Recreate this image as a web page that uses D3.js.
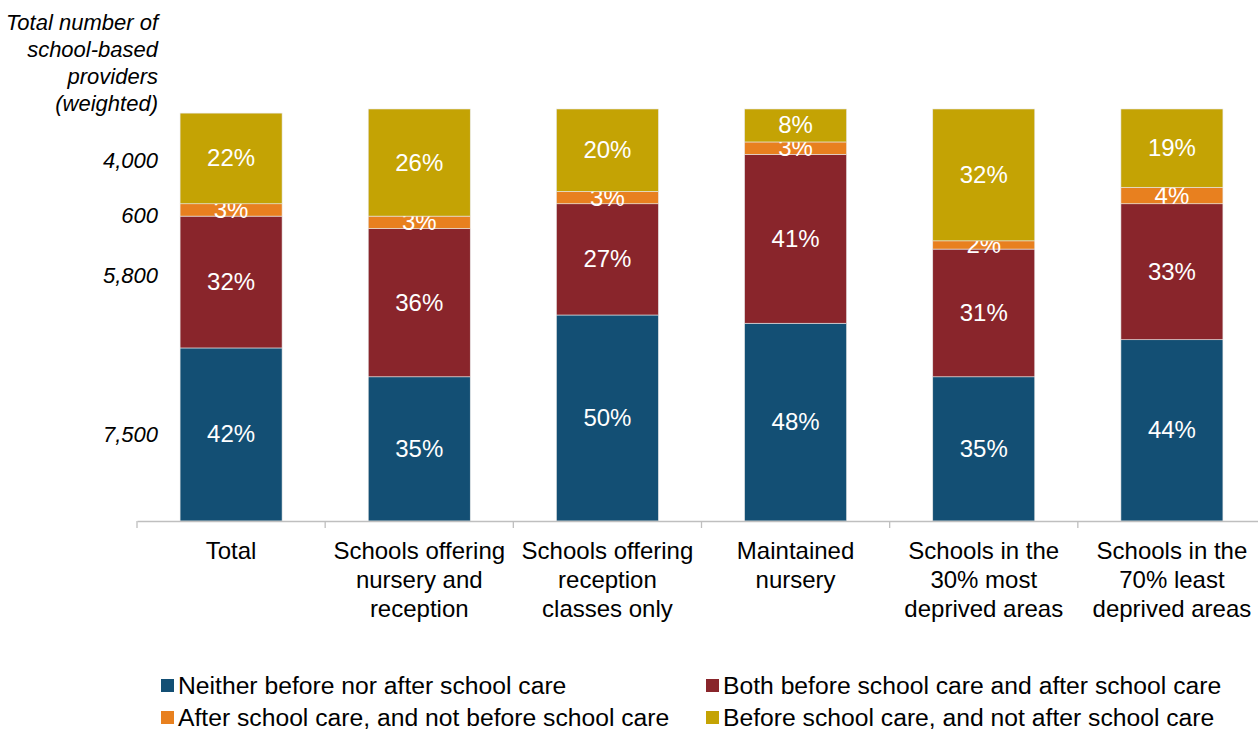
<!DOCTYPE html>
<html>
<head>
<meta charset="utf-8">
<script src="https://cdn.jsdelivr.net/npm/d3@7"></script>
<style>
	body { margin: 0; background: #fff; }
	text { font-family: "Liberation Sans", Arial, sans-serif; }
</style>
</head>
<body>
<svg width="1258" height="731"></svg>
<script>
'use strict';
// data
const categories = [
	["Total"],
	["Schools offering", "nursery and", "reception"],
	["Schools offering", "reception", "classes only"],
	["Maintained", "nursery"],
	["Schools in the", "30% most", "deprived areas"],
	["Schools in the", "70% least", "deprived areas"]]
const seriesNames = [
	"Neither before nor after school care",
	"Both before school care and after school care",
	"After school care, and not before school care",
	"Before school care, and not after school care"]
const neither = [42, 35, 50, 48, 35, 44]
const both = [32, 36, 27, 41, 31, 33]
const afterOnly = [3, 3, 3, 3, 2, 4]
const beforeOnly = [22, 26, 20, 8, 32, 19]
const totalCounts = ["7,500", "5,800", "600", "4,000"] // per series, for the Total bar
const yTitle = ["Total number of", "school-based", "providers", "(weighted)"]

const colors = ["#134f74", "#89252b", "#e8801f", "#c4a304"]

let eSvg = d3.select("svg")
let dTop = 109, dBottom = 521, dLeft = 137, dRight = 1266
let fs = 24, fsIt = 22, fsLeg = 24.7

let xScale = d3.scaleBand()
	.domain(d3.range(categories.length))
	.range([dLeft, dRight])
	.paddingInner(0).paddingOuter(0)
let yScale = d3.scaleLinear().domain([0, 100]).range([dBottom, dTop])

let table = categories.map((c, i) => ({
	i: i, s0: neither[i], s1: both[i], s2: afterOnly[i], s3: beforeOnly[i]}))
let stacked = d3.stack().keys(["s0", "s1", "s2", "s3"])(table)

let barW = 102
let gBars = eSvg.append("g")
stacked.forEach((layer, k) => {
	let g = gBars.append("g")
	g.selectAll("rect").data(layer).enter().append("rect")
		.attr("x", d => xScale(d.data.i) + (xScale.bandwidth() - barW) / 2)
		.attr("y", d => yScale(d[1]))
		.attr("width", barW)
		.attr("height", d => yScale(d[0]) - yScale(d[1]))
		.attr("fill", colors[k])
		.attr("stroke", "#e8e8e8").attr("stroke-width", 0.6)
	g.selectAll("text").data(layer).enter().append("text")
		.attr("x", d => xScale(d.data.i) + xScale.bandwidth() / 2)
		.attr("y", d => (yScale(d[0]) + yScale(d[1])) / 2 + 8)
		.attr("text-anchor", "middle")
		.attr("fill", "#fff")
		.attr("font-size", fs)
		.text(d => (d[1] - d[0]) + "%")
})

// axis line along the bottom
let axis = d3.axisBottom(xScale).tickSize(0).tickFormat("")
let gAxis = eSvg.append("g").attr("transform", `translate(0,${dBottom})`).call(axis)
gAxis.select(".domain").attr("stroke", "#bfbfbf").attr("stroke-width", 1.3)
gAxis.selectAll(".tick").remove()
gAxis.selectAll("line.sep").data(d3.range(categories.length)).enter().append("line")
	.attr("x1", i => xScale(i)).attr("x2", i => xScale(i))
	.attr("y1", 0).attr("y2", 7)
	.attr("stroke", "#bfbfbf").attr("stroke-width", 1.3)

// category labels
let gCat = eSvg.append("g")
categories.forEach((lines, i) => {
	let t = gCat.append("text")
		.attr("x", xScale(i) + xScale.bandwidth() / 2)
		.attr("y", 559)
		.attr("text-anchor", "middle")
		.attr("font-size", fs)
		.attr("fill", "#000")
	lines.forEach((l, j) => {
		t.append("tspan").attr("x", xScale(i) + xScale.bandwidth() / 2)
			.attr("dy", j ? 29 : 0).text(l)
	})
})

// totals next to the Total bar, one per segment
let nudge = [0, -7, 5, 2]
let gTot = eSvg.append("g")
stacked.forEach((layer, k) => {
	let d = layer[0]
	gTot.append("text")
		.attr("x", 158)
		.attr("y", (yScale(d[0]) + yScale(d[1])) / 2 + 8 + nudge[k])
		.attr("text-anchor", "end")
		.attr("font-size", fsIt)
		.attr("font-style", "italic")
		.text(totalCounts[k])
})

// y title
let tTitle = eSvg.append("text")
	.attr("x", 158).attr("y", 30)
	.attr("text-anchor", "end")
	.attr("font-size", fsIt)
	.attr("font-style", "italic")
yTitle.forEach((l, j) => {
	tTitle.append("tspan").attr("x", 158).attr("dy", j ? 27 : 0).text(l)
})

// legend, two columns
let legPos = [[161, 686], [706, 686], [161, 718], [706, 718]]
seriesNames.forEach((name, k) => {
	let p = legPos[k]
	eSvg.append("rect").attr("x", p[0]).attr("y", p[1] - 7)
		.attr("width", 13).attr("height", 13).attr("fill", colors[k])
	eSvg.append("text").attr("x", p[0] + 17).attr("y", p[1] + 8)
		.attr("font-size", fsLeg).text(name)
})
</script>
</body>
</html>
